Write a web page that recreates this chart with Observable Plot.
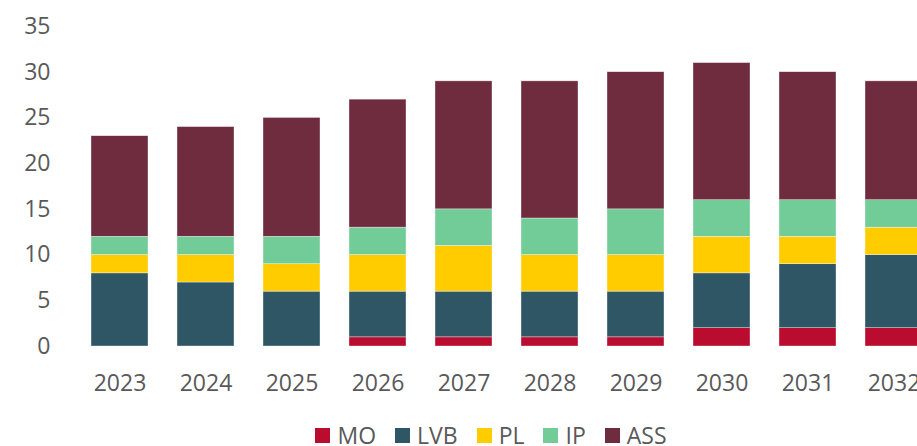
<!DOCTYPE html>
<html>
<head>
<meta charset="utf-8">
<script src="https://cdn.jsdelivr.net/npm/d3@7"></script>
<script src="https://cdn.jsdelivr.net/npm/@observablehq/plot@0.6"></script>
<style>
  html, body { margin: 0; padding: 0; background: #fff; overflow: hidden; }
  body { width: 917px; height: 446px; font-family: "Open Sans", sans-serif; }
  #chart svg { overflow: hidden; display: block; }
  #legend { position: absolute; left: 0; top: 424px; width: 982px; display: flex; justify-content: center; gap: 19px; font-size: 23px; color: #595959; line-height: 23px; }
  #legend .item { display: flex; align-items: center; gap: 7px; }
  #legend .sw { width: 15px; height: 15px; display: inline-block; }
</style>
</head>
<body>
<div id="chart"></div>
<div id="legend"></div>
<script>
const years = ["2023","2024","2025","2026","2027","2028","2029","2030","2031","2032"];
const seriesNames = ["MO","LVB","PL","IP","ASS"];
const seriesColors = ["#BA0C2F","#2F5665","#FFCC00","#72CC98","#6F2C3F"];
const MO  = [0, 0, 0, 1, 1, 1, 1, 2, 2, 2];
const LVB = [8, 7, 6, 5, 5, 5, 5, 6, 7, 8];
const PL  = [2, 3, 3, 4, 5, 4, 4, 4, 3, 3];
const IP  = [2, 2, 3, 3, 4, 4, 5, 4, 4, 3];
const ASS = [11, 12, 13, 14, 14, 15, 15, 15, 14, 13];
const yTicks = [0, 5, 10, 15, 20, 25, 30, 35];

const seriesValues = [MO, LVB, PL, IP, ASS];
const data = [];
seriesNames.forEach((s, i) => {
  years.forEach((y, j) => {
    data.push({year: y, series: s, value: seriesValues[i][j]});
  });
});

const chart = Plot.plot({
  width: 917,
  height: 410,
  marginTop: 26,
  marginBottom: 64,
  marginLeft: 75,
  marginRight: 0,
  style: {fontFamily: "Open Sans", fontSize: "23px", color: "#595959", background: "white"},
  x: {domain: years, range: [75, 938], paddingInner: 0.34, paddingOuter: 0.17, label: null},
  y: {domain: [0, 35], ticks: yTicks, label: null},
  color: {domain: seriesNames, range: seriesColors},
  marks: [
    Plot.ruleY(yTicks, {stroke: "#d9d9d9", strokeWidth: 1.5, x1: 75, x2: 917}),
    Plot.barY(data, {x: "year", y: "value", fill: "series", order: null, stroke: "white", strokeWidth: 0.6, strokeOpacity: 0.6}),
    Plot.axisY({ticks: yTicks, tickSize: 0, tickPadding: 25, fontSize: 23, label: null}),
    Plot.axisX({tickSize: 0, tickPadding: 28, fontSize: 23, label: null})
  ]
});
document.getElementById("chart").appendChild(chart);

const legend = document.getElementById("legend");
seriesNames.forEach((s, i) => {
  const item = document.createElement("span");
  item.className = "item";
  const sw = document.createElement("span");
  sw.className = "sw";
  sw.style.background = seriesColors[i];
  item.appendChild(sw);
  const t = document.createElement("span");
  t.textContent = s;
  item.appendChild(t);
  legend.appendChild(item);
});
</script>
</body>
</html>
